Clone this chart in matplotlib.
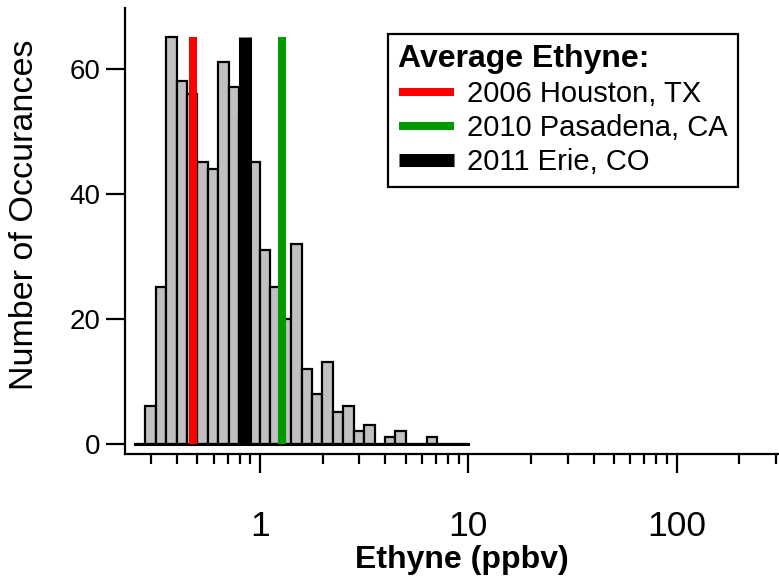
import matplotlib.pyplot as plt
import numpy as np
from matplotlib.ticker import FixedLocator, LogLocator, NullFormatter, FixedFormatter

plt.rcParams['font.family'] = ['Liberation Sans', 'DejaVu Sans']

# histogram of ethyne mixing ratios, log bins of 0.05 decade (10^-0.6 .. 10^1)
bin_exp_lo = -0.6
bin_exp_hi = 1.0
counts = [0, 6, 25, 65, 58, 56, 45, 44, 61, 57, 52, 45, 31, 25, 20, 32,
          12, 8, 13, 5, 6, 2, 3, 0, 1, 2, 0, 0, 1, 0, 0, 0]

# campaign averages (ppbv)
sites = ['2006 Houston, TX', '2010 Pasadena, CA', '2011 Erie, CO']
site_avg = [0.475, 1.27, 0.845]
site_colors = ['#FF0000', '#009900', '#000000']
site_widths = [5.8, 5.8, 9.4]

x_ticks = [1, 10, 100]
y_ticks = [0, 20, 40, 60]

edges = np.logspace(bin_exp_lo, bin_exp_hi, len(counts) + 1)

fig = plt.figure(figsize=(7.79, 5.78), dpi=100)
ax = fig.add_axes([125 / 779, 1 - 453.5 / 578, 654 / 779, 445.5 / 578])

ax.bar(edges[:-1], counts, width=np.diff(edges), align='edge',
       color='#C0C0C0', edgecolor='black', linewidth=1.6, zorder=2)
ax.plot([edges[0], edges[-1]], [0, 0], color='black', lw=2.2, zorder=3)

# one thick vertical line per campaign average
handles = []
for name, val, c, w in zip(sites, site_avg, site_colors, site_widths):
    ln, = ax.plot([val, val], [0, max(counts)], color=c, lw=w,
                  solid_capstyle='butt', zorder=4, label=name)
    handles.append(ln)

ax.set_xscale('log')
ax.set_xlim(0.225, 310)
ax.set_ylim(-1.6, 69.7)

ax.xaxis.set_major_locator(FixedLocator(x_ticks))
ax.xaxis.set_major_formatter(FixedFormatter([str(t) for t in x_ticks]))
ax.xaxis.set_minor_locator(LogLocator(base=10, subs=np.arange(2, 10)))
ax.xaxis.set_minor_formatter(NullFormatter())
ax.set_yticks(y_ticks)

for s in ['top', 'right']:
    ax.spines[s].set_visible(False)
for s in ['left', 'bottom']:
    ax.spines[s].set_linewidth(1.6)

ax.tick_params(axis='x', which='major', direction='out', length=14, width=1.6,
               labelsize=25.5, pad=27)
ax.tick_params(axis='x', which='minor', direction='out', length=7, width=1.6)
ax.tick_params(axis='y', which='major', direction='out', length=13.5, width=1.6,
               labelsize=20, pad=4)

ax.set_xlabel('Ethyne (ppbv)', fontsize=23, fontweight='bold')
ax.set_ylabel('Number of Occurances', fontsize=24.5)
ax.xaxis.set_label_coords(0.515, -0.206)
ax.yaxis.set_label_coords(-0.13, 0.535)

leg = ax.legend(handles=handles, title='Average Ethyne:', loc='upper left',
                bbox_to_anchor=(388 / 779, 1 - 34 / 578),
                bbox_transform=fig.transFigure, borderaxespad=0,
                fontsize=21, title_fontproperties={'weight': 'bold', 'size': 23},
                alignment='left', fancybox=False, framealpha=1,
                edgecolor='black', handlelength=1.9, handletextpad=0.45,
                labelspacing=0.2, borderpad=0.36)
leg.get_frame().set_linewidth(1.6)

fig.savefig('out.png', dpi=100)
